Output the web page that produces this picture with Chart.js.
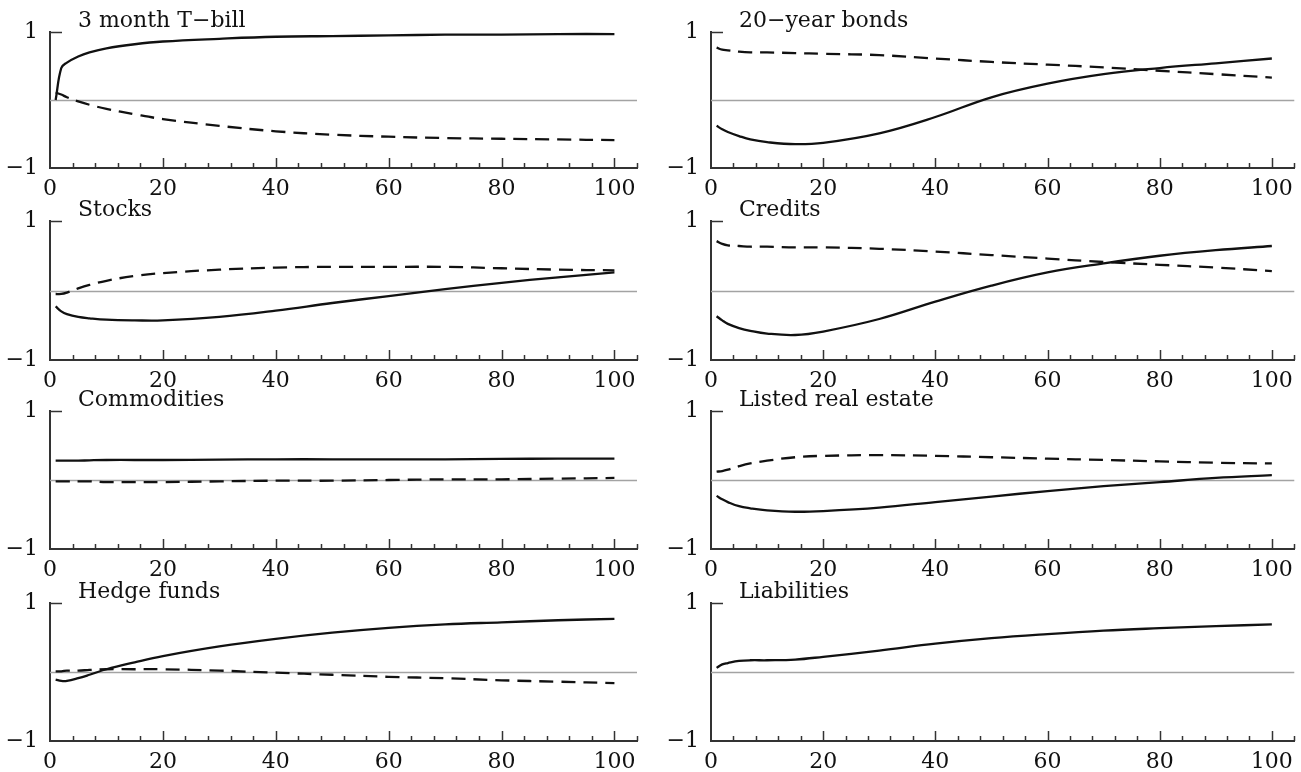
<!DOCTYPE html>
<html>
<head>
<meta charset="utf-8">
<script src="https://cdn.jsdelivr.net/npm/chart.js@4.4.1/dist/chart.umd.min.js"></script>
<style>
  html, body { margin: 0; padding: 0; background: #fff; }
  #wrap { position: relative; width: 1301px; height: 772px; overflow: hidden; }
  #wrap canvas { position: absolute; }
</style>
</head>
<body>
<div id="wrap"></div>
<script>
const STEPS = [1, 2, 3, 5, 7, 10, 15, 20, 30, 40, 50, 60, 70, 80, 90, 100];
const X_TICKS = [0, 20, 40, 60, 80, 100];
const Y_TICKS = [-1, 1];

const TITLES = ['3 month T\u2212bill', '20\u2212year bonds', 'Stocks', 'Credits',
                'Commodities', 'Listed real estate', 'Hedge funds', 'Liabilities'];

// solid lines
const tbillSolid   = [0.00, 0.47, 0.55, 0.64, 0.70, 0.76, 0.82, 0.86, 0.90, 0.93, 0.94, 0.95, 0.96, 0.96, 0.97, 0.97];
const bondsSolid   = [-0.38, -0.43, -0.47, -0.53, -0.58, -0.62, -0.65, -0.63, -0.49, -0.25, 0.04, 0.24, 0.38, 0.47, 0.54, 0.61];
const stocksSolid  = [-0.23, -0.30, -0.34, -0.38, -0.40, -0.42, -0.43, -0.43, -0.38, -0.29, -0.18, -0.08, 0.02, 0.11, 0.19, 0.26];
const creditsSolid = [-0.37, -0.43, -0.48, -0.54, -0.58, -0.62, -0.64, -0.59, -0.41, -0.16, 0.07, 0.26, 0.39, 0.50, 0.58, 0.64];
const commodSolid  = [0.28, 0.28, 0.28, 0.28, 0.285, 0.29, 0.29, 0.29, 0.295, 0.30, 0.30, 0.30, 0.30, 0.305, 0.31, 0.31];
const realEstSolid = [-0.23, -0.28, -0.32, -0.38, -0.41, -0.44, -0.46, -0.45, -0.40, -0.32, -0.24, -0.16, -0.09, -0.03, 0.03, 0.07];
const hedgeSolid   = [-0.11, -0.13, -0.13, -0.09, -0.04, 0.04, 0.14, 0.23, 0.37, 0.48, 0.57, 0.64, 0.69, 0.72, 0.75, 0.77];
const liabSolid    = [0.06, 0.11, 0.13, 0.16, 0.17, 0.17, 0.18, 0.22, 0.31, 0.41, 0.49, 0.55, 0.60, 0.635, 0.665, 0.69];

// dashed lines
const tbillDash    = [0.11, 0.08, 0.04, -0.02, -0.07, -0.13, -0.21, -0.28, -0.38, -0.46, -0.51, -0.54, -0.56, -0.57, -0.58, -0.59];
const bondsDash    = [0.77, 0.74, 0.73, 0.71, 0.70, 0.70, 0.69, 0.68, 0.66, 0.61, 0.56, 0.52, 0.48, 0.43, 0.38, 0.33];
const stocksDash   = [-0.05, -0.05, -0.03, 0.03, 0.08, 0.14, 0.21, 0.25, 0.30, 0.33, 0.34, 0.34, 0.34, 0.32, 0.30, 0.29];
const creditsDash  = [0.71, 0.67, 0.65, 0.64, 0.63, 0.63, 0.62, 0.62, 0.60, 0.56, 0.51, 0.46, 0.41, 0.37, 0.33, 0.28];
const commodDash   = [-0.02, -0.02, -0.02, -0.02, -0.02, -0.03, -0.03, -0.03, -0.02, -0.01, -0.01, 0.00, 0.01, 0.01, 0.02, 0.03];
const realEstDash  = [0.12, 0.13, 0.15, 0.20, 0.24, 0.28, 0.33, 0.35, 0.36, 0.35, 0.33, 0.31, 0.29, 0.27, 0.25, 0.24];
const hedgeDash    = [0.01, 0.01, 0.02, 0.02, 0.03, 0.04, 0.04, 0.04, 0.02, -0.01, -0.04, -0.07, -0.09, -0.12, -0.14, -0.16];

const SOLID = [tbillSolid, bondsSolid, stocksSolid, creditsSolid, commodSolid, realEstSolid, hedgeSolid, liabSolid];
const DASHED = [tbillDash, bondsDash, stocksDash, creditsDash, commodDash, realEstDash, hedgeDash, null];

const AXIS = '#333';
const INK = '#111';
const ZERO = '#a3a3a3';
const FONT = '"DejaVu Serif", "Liberation Serif", serif';

// panel placement (pixels)
const COL_X = [0, 650];
const COL_W = [650, 651];
const PLOT_L = [50, 61];
const PLOT_R = [637, 647];
const ROW_TOP = [32, 221, 411, 603];
const ROW_BOT = [168, 360, 549, 741];

const panelDecor = {
  id: 'panelDecor',
  beforeDatasetsDraw(chart) {
    const { ctx, chartArea: a, scales: { x, y } } = chart;
    const line = (x1, y1, x2, y2) => { ctx.beginPath(); ctx.moveTo(x1, y1); ctx.lineTo(x2, y2); ctx.stroke(); };
    ctx.save();
    // zero line
    ctx.strokeStyle = ZERO;
    ctx.lineWidth = 1.3;
    const y0 = Math.round(y.getPixelForValue(0)) + 0.5;
    line(a.left, y0, a.right, y0);
    // inward ticks on the x axis
    ctx.strokeStyle = AXIS;
    ctx.lineWidth = 1.5;
    for (let v = 4; v <= x.max; v += 4) {
      const px = Math.round(x.getPixelForValue(v)) + 0.5;
      line(px, a.bottom, px, a.bottom - (v % 20 === 0 ? 10 : 5));
    }
    // short tick at y = 1
    const y1 = Math.round(y.getPixelForValue(1)) + 0.5;
    line(a.left, y1, a.left + 12, y1);
    ctx.restore();
  },
  afterDraw(chart, args, opts) {
    const { ctx, chartArea: a } = chart;
    ctx.save();
    ctx.font = '22px ' + FONT;
    ctx.fillStyle = INK;
    ctx.textBaseline = 'alphabetic';
    ctx.fillText(opts.text, a.left + 28, a.top - 5);
    ctx.restore();
  }
};

const wrap = document.getElementById('wrap');

TITLES.forEach((title, i) => {
  const col = i % 2, row = Math.floor(i / 2);
  const plotH = ROW_BOT[row] - ROW_TOP[row];
  const W = COL_W[col];
  const H = plotH + 32 + 31;

  const canvas = document.createElement('canvas');
  canvas.width = W;
  canvas.height = H;
  canvas.style.left = COL_X[col] + 'px';
  canvas.style.top = (ROW_TOP[row] - 32) + 'px';
  wrap.appendChild(canvas);

  const datasets = [{
    data: STEPS.map((s, k) => ({ x: s, y: SOLID[i][k] })),
    borderColor: INK,
    borderWidth: 2.3
  }];
  if (DASHED[i]) {
    datasets.push({
      data: STEPS.map((s, k) => ({ x: s, y: DASHED[i][k] })),
      borderColor: INK,
      borderWidth: 2.3,
      borderDash: [14, 8]
    });
  }

  new Chart(canvas.getContext('2d'), {
    type: 'line',
    data: { datasets },
    plugins: [panelDecor],
    options: {
      responsive: false,
      animation: false,
      devicePixelRatio: 1,
      layout: { padding: { top: 32, left: 0, right: W - PLOT_R[col], bottom: 0 } },
      elements: {
        point: { radius: 0 },
        line: { tension: 0.4, fill: false, borderCapStyle: 'butt', borderJoinStyle: 'round' }
      },
      plugins: {
        legend: { display: false },
        tooltip: { enabled: false },
        panelDecor: { text: title }
      },
      scales: {
        x: {
          type: 'linear',
          min: 0,
          max: 104,
          grid: { display: false, drawTicks: false },
          border: { display: true, color: AXIS, width: 2 },
          afterBuildTicks: s => { s.ticks = X_TICKS.map(v => ({ value: v })); },
          afterFit: s => { s.height = 31; },
          ticks: {
            color: INK,
            font: { family: FONT, size: 22 },
            padding: 8,
            maxRotation: 0,
            autoSkip: false
          }
        },
        y: {
          type: 'linear',
          min: -1,
          max: 1,
          grid: { display: false, drawTicks: false },
          border: { display: true, color: AXIS, width: 2 },
          afterBuildTicks: s => { s.ticks = Y_TICKS.map(v => ({ value: v })); },
          afterFit: s => { s.width = PLOT_L[col]; },
          ticks: {
            color: INK,
            font: { family: FONT, size: 22 },
            padding: 12,
            callback: v => (v < 0 ? '\u22121' : '1')
          }
        }
      }
    }
  });
});
</script>
</body>
</html>
